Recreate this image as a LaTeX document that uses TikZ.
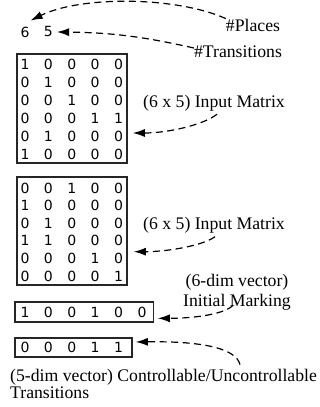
\documentclass[tikz,border=0pt]{standalone}
\usepackage{fontspec}
\setmainfont{Liberation Serif}
\newfontfamily\digitfont{DejaVu Sans}
\usetikzlibrary{arrows.meta}
\begin{document}
\begin{tikzpicture}[x=1pt,y=1pt,
  lbl/.style={font=\fontsize{17.7}{20}\selectfont, inner sep=0pt},
  dig/.style={font=\digitfont\fontsize{14}{15}\selectfont, inner sep=0pt},
  box/.style={draw=black!85, line width=1.6pt, inner sep=0pt},
  conn/.style={dash pattern=on 7pt off 4.5pt, line width=1.2pt, -{Latex[length=12pt,width=8pt]}},
]
\useasboundingbox (0,0) rectangle (320,407);

% header numbers
\node[dig] (n6) at (25,375) {6};
\node[dig] (n5) at (48.4,375) {5};
\node[lbl] (places) at (253,382) {\#Places};
\node[lbl] (trans) at (238,355) {\#Transitions};

% first input matrix
\node[box, minimum width=110pt, minimum height=109pt] (m1) at (72,298.5) {};
\foreach \row [count=\r from 0] in {{1,0,0,0,0},{0,1,0,0,0},{0,0,1,0,0},{0,0,0,1,1},{0,1,0,0,0},{1,0,0,0,0}}
  \foreach \v [count=\c from 0] in \row
    \node[dig] (m1-\r-\c) at (25+23.4*\c, 343-18*\r) {\v};

% second input matrix
\node[box, minimum width=110pt, minimum height=108pt] (m2) at (72,176) {};
\foreach \row [count=\r from 0] in {{0,0,1,0,0},{1,0,0,0,0},{0,1,0,0,0},{1,1,0,0,0},{0,0,0,1,0},{0,0,0,0,1}}
  \foreach \v [count=\c from 0] in \row
    \node[dig] (m2-\r-\c) at (25+23.4*\c, 219-17.6*\r) {\v};

% initial marking vector
\node[box, minimum width=138.5pt, minimum height=20pt] (v1) at (84.25,95) {};
\foreach \v [count=\c from 0] in {1,0,0,1,0,0}
  \node[dig] (v1-\c) at (25+23.4*\c, 95) {\v};

% controllable vector
\node[box, minimum width=117pt, minimum height=19pt] (v2) at (73.5,59.5) {};
\foreach \v [count=\c from 0] in {0,0,0,1,1}
  \node[dig] (v2-\c) at (25+23.4*\c, 59.5) {\v};

% labels
\node[lbl] (lab1) at (214,304) {(6 x 5) Input Matrix};
\node[lbl] (lab2) at (214,182) {(6 x 5) Input Matrix};
\node[lbl, align=center] (lab3) at (237,115) {(6-dim vector)\\Initial Marking};
\node[lbl, font=\fontsize{17.7}{17}\selectfont, align=left, anchor=west] (lab4) at (10,23.5)
  {(5-dim vector) Controllable/Uncontrollable\\Transitions};

% connectors
\draw[conn] (places.north west) .. controls (175,411) and (80,411) .. ([shift={(1pt,6pt)}]n6.north east);
\draw[conn] ([yshift=4pt]trans.west) to[bend right=6] ([xshift=4pt]n5.east);
\draw[conn] ([shift={(3pt,-3pt)}]lab1.south) .. controls (205,283) and (170,274) .. ([shift={(5pt,-24.5pt)}]m1.east);
\draw[conn] ([shift={(1pt,-3.5pt)}]lab2.south) .. controls (203,161.5) and (168,155.3) .. ([shift={(6pt,-20.7pt)}]m2.east);
\draw[conn] ([shift={(-4pt,5pt)}]lab3.south) .. controls (225,93) and (195,88.7) .. ([shift={(3.5pt,-6.3pt)}]v1.east);
\draw[conn] ([shift={(230pt,4pt)}]lab4.north west) .. controls (236,58) and (205,66) .. ([shift={(3pt,5.5pt)}]v2.east);
\end{tikzpicture}
\end{document}
